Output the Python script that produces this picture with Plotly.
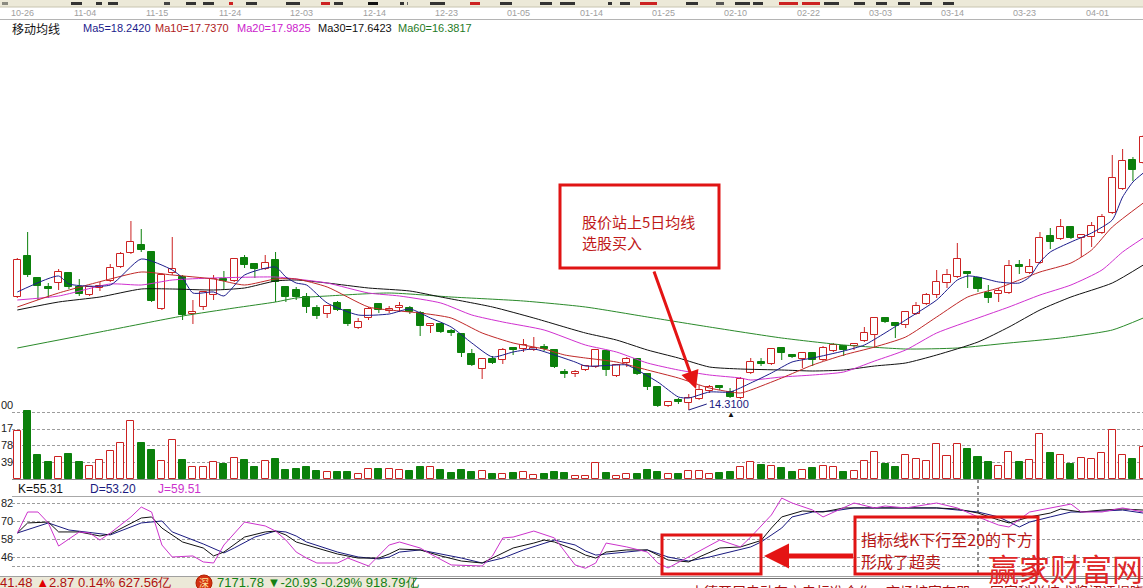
import plotly.graph_objects as go

W, H = 1143, 588
STEP, FIRST, LEFT = 10.33, 17.3, 12.0

# ---------------- data ----------------
dates = ["10-26", "11-04", "11-15", "11-24", "12-03", "12-14", "12-23", "01-05",
         "01-14", "01-25", "02-10", "02-22", "03-03", "03-14", "03-23", "04-01"]

opens = [17.70, 18.93, 18.27, 18.00, 18.12, 18.42, 18.00, 17.76, 17.97, 18.18,
         18.60, 19.02, 19.26, 19.05, 17.34, 18.42, 18.30, 17.19, 17.40, 17.76,
         18.24, 18.18, 18.87, 18.69, 18.54, 18.81, 18.00, 17.91, 17.70, 17.37,
         17.19, 17.52, 17.31, 16.77, 17.07, 17.49, 17.28, 17.37, 17.37, 17.22,
         16.83, 16.89, 16.68, 16.59, 15.99, 15.54, 15.84, 15.81, 16.17, 16.14,
         16.11, 16.20, 16.11, 15.45, 15.39, 15.51, 15.60, 16.08, 15.33, 15.72,
         15.84, 15.39, 15.00, 14.43, 14.61, 14.52, 14.64, 14.88, 15.03, 14.85,
         14.67, 15.42, 15.75, 15.69, 16.17, 15.96, 15.84, 16.02, 15.81, 16.08,
         16.23, 16.23, 16.38, 16.56, 17.07, 16.92, 16.86, 17.19, 17.49, 17.76,
         18.12, 18.30, 18.45, 18.27, 17.82, 17.79, 17.82, 18.66, 18.42, 18.72,
         19.53, 19.44, 19.80, 19.47, 19.50, 19.62, 20.22, 20.94, 21.81, 21.72]
highs = [18.87, 19.65, 18.30, 18.12, 18.54, 18.45, 18.24, 18.03, 18.15, 18.69,
         19.05, 19.98, 19.74, 19.08, 18.42, 19.50, 18.36, 17.61, 17.88, 18.36,
         18.48, 18.87, 18.96, 18.72, 18.96, 19.05, 18.03, 18.00, 17.82, 17.46,
         17.46, 17.58, 17.34, 17.07, 17.40, 17.52, 17.43, 17.55, 17.43, 17.28,
         16.89, 16.92, 16.74, 16.62, 16.14, 15.87, 15.93, 16.17, 16.17, 16.44,
         16.50, 16.29, 16.14, 15.54, 15.51, 15.66, 16.14, 16.11, 15.69, 15.90,
         15.87, 15.42, 15.03, 14.58, 14.67, 14.79, 15.06, 15.06, 15.06, 14.97,
         15.30, 15.87, 15.87, 16.17, 16.20, 15.99, 16.05, 16.05, 16.23, 16.32,
         16.26, 16.32, 16.80, 17.10, 17.10, 16.95, 17.28, 17.55, 17.82, 18.51,
         18.54, 19.32, 18.48, 18.30, 18.06, 17.97, 18.81, 18.81, 18.84, 19.65,
         19.77, 20.04, 19.83, 19.59, 19.95, 20.19, 21.96, 22.14, 21.90, 22.56]
lows = [17.67, 18.30, 17.61, 17.67, 17.91, 17.94, 17.73, 17.73, 17.88, 18.15,
        18.57, 18.99, 19.05, 17.55, 17.31, 18.36, 17.01, 16.89, 17.31, 17.61,
        17.91, 18.15, 18.57, 18.27, 18.51, 17.55, 17.55, 17.61, 17.22, 17.04,
        17.07, 17.28, 16.83, 16.74, 17.01, 17.22, 17.22, 17.25, 17.19, 16.53,
        16.62, 16.62, 16.53, 15.90, 15.63, 15.24, 15.69, 15.69, 15.96, 16.05,
        16.08, 16.08, 15.57, 15.27, 15.30, 15.48, 15.57, 15.33, 15.30, 15.60,
        15.36, 14.91, 14.40, 14.40, 14.49, 14.31, 14.61, 14.82, 14.91, 14.67,
        14.64, 15.39, 15.63, 15.66, 15.81, 15.87, 15.57, 15.63, 15.78, 16.05,
        15.93, 16.11, 16.35, 16.17, 16.92, 16.47, 16.77, 17.16, 17.46, 17.67,
        17.97, 18.27, 17.97, 17.85, 17.52, 17.55, 17.79, 18.39, 18.39, 18.69,
        19.14, 19.41, 19.44, 18.90, 19.20, 19.59, 20.19, 20.91, 21.18, 21.69]
closes = [18.81, 18.36, 18.03, 17.94, 18.45, 18.00, 17.79, 18.00, 18.03, 18.57,
          18.99, 19.35, 19.11, 17.58, 18.36, 18.54, 17.16, 17.25, 17.85, 18.24,
          18.18, 18.84, 18.66, 18.54, 18.72, 18.15, 17.70, 17.70, 17.40, 17.13,
          17.43, 17.31, 16.89, 16.95, 17.34, 17.31, 17.34, 17.43, 17.25, 16.83,
          16.89, 16.65, 16.62, 16.02, 15.66, 15.84, 15.72, 16.11, 16.11, 16.26,
          16.17, 16.14, 15.60, 15.39, 15.45, 15.63, 16.11, 15.51, 15.66, 15.84,
          15.39, 15.00, 14.43, 14.55, 14.55, 14.67, 14.91, 15.00, 14.97, 14.70,
          15.24, 15.75, 15.69, 16.14, 16.02, 15.90, 16.02, 15.81, 16.17, 16.26,
          16.11, 16.29, 16.62, 17.07, 16.95, 16.83, 17.25, 17.43, 17.76, 18.15,
          18.36, 18.84, 18.39, 17.94, 17.67, 17.88, 18.63, 18.60, 18.60, 19.47,
          19.35, 19.80, 19.47, 19.56, 19.83, 20.10, 21.27, 21.78, 21.51, 22.50]
volumes = [112, 159, 56, 40, 51, 58, 40, 30, 44, 66,
           84, 136, 84, 68, 42, 91, 44, 28, 28, 40,
           35, 49, 44, 28, 42, 47, 21, 23, 28, 19,
           16, 16, 16, 12, 23, 23, 23, 21, 19, 28,
           28, 21, 14, 21, 16, 19, 12, 12, 14, 16,
           9, 12, 16, 14, 7, 7, 37, 14, 7, 12,
           12, 21, 16, 12, 12, 19, 19, 12, 14, 16,
           28, 40, 33, 30, 26, 16, 21, 26, 30, 28,
           16, 19, 42, 63, 35, 28, 56, 47, 42, 82,
           54, 82, 70, 51, 40, 30, 63, 40, 44, 105,
           61, 56, 35, 49, 47, 61, 115, 56, 47, 75]

ma5_idx = [0, 4, 5, 9, 12, 15, 16, 17, 19, 20, 22, 25, 26, 27, 28, 30, 33, 36, 38, 40,
           42, 44, 46, 48, 50, 52, 54, 55, 58, 59, 62, 64, 65, 67, 69, 71, 73, 75, 77, 80,
           82, 84, 86, 89, 91, 92, 93, 95, 97, 98, 99, 100, 102, 104, 106, 107, 108, 109]
ma5 = [17.85, 18.33, 18.09, 18.06, 18.84, 18.51, 18.27, 17.82, 17.85, 17.73,
       18.36, 18.60, 18.30, 18.12, 18.06, 17.52, 17.16, 17.19, 17.34, 17.07,
       16.80, 16.32, 15.90, 16.05, 16.14, 15.96, 15.75, 15.63, 15.66, 15.66,
       15.15, 14.70, 14.67, 14.85, 14.85, 15.12, 15.42, 15.75, 15.87, 16.08,
       16.26, 16.62, 17.01, 17.61, 18.21, 18.33, 18.30, 18.15, 18.12, 18.30,
       18.75, 19.05, 19.35, 19.62, 20.01, 20.70, 21.15, 21.42]
ma10_idx = [0, 4, 9, 12, 15, 19, 22, 25, 27, 30, 34, 37, 39, 42, 45, 48, 51, 53, 55, 58,
            61, 64, 67, 70, 71, 74, 77, 80, 83, 86, 89, 92, 95, 97, 99, 102, 104, 106, 109]
ma10 = [17.40, 17.82, 18.24, 18.45, 18.36, 18.24, 18.06, 18.24, 18.24, 18.00,
        17.40, 17.28, 17.22, 17.07, 16.62, 16.32, 16.14, 15.96, 15.87, 15.75,
        15.51, 15.27, 14.97, 14.82, 14.91, 15.27, 15.66, 15.96, 16.20, 16.50,
        17.10, 17.70, 17.97, 18.21, 18.45, 18.72, 19.11, 19.80, 20.52]
ma20_idx = [0, 4, 9, 12, 15, 19, 25, 27, 30, 34, 37, 41, 44, 47, 51, 55, 58, 61, 64, 67,
            70, 71, 74, 77, 80, 83, 86, 89, 93, 96, 99, 102, 105, 107, 109]
ma20 = [17.61, 17.73, 18.09, 18.06, 18.21, 18.27, 18.30, 18.24, 18.12, 17.82,
        17.73, 17.52, 17.16, 16.95, 16.71, 16.26, 16.05, 15.72, 15.51, 15.36,
        15.27, 15.21, 15.30, 15.36, 15.45, 15.78, 16.11, 16.62, 17.07, 17.40,
        17.76, 18.06, 18.51, 19.05, 19.47]
ma30_idx = [0, 4, 8, 12, 15, 19, 22, 25, 27, 30, 34, 38, 41, 46, 50, 55, 58, 61, 64, 67,
            70, 74, 77, 80, 83, 86, 89, 93, 96, 99, 102, 106, 109]
ma30 = [17.31, 17.55, 17.70, 17.94, 17.94, 17.91, 17.97, 18.18, 18.21, 18.12,
        17.97, 17.88, 17.70, 17.40, 17.07, 16.62, 16.41, 16.11, 15.87, 15.60,
        15.54, 15.51, 15.48, 15.51, 15.63, 15.72, 15.96, 16.35, 16.80, 17.31,
        17.70, 18.12, 18.66]
ma60_idx = [0, 8, 16, 21, 25, 27, 30, 36, 42, 49, 55, 61, 67, 74, 80, 86, 91, 96, 101, 106, 109]
ma60 = [16.17, 16.65, 17.13, 17.37, 17.55, 17.67, 17.73, 17.82, 17.70, 17.58,
        17.40, 17.10, 16.80, 16.47, 16.26, 16.14, 16.17, 16.32, 16.47, 16.71, 17.07]

k_idx = [0, 1, 3, 4, 6, 8, 9, 12, 13, 14, 16, 18, 19, 20, 22, 24, 25, 26, 27, 28,
         31, 33, 35, 36, 37, 39, 41, 43, 45, 46, 48, 50, 51, 52, 54, 55, 56, 57, 59, 61,
         62, 63, 65, 66, 68, 70, 72, 73, 74, 76, 78, 80, 82, 84, 86, 89, 91, 93, 95, 96,
         98, 100, 101, 103, 105, 107, 109]
k_val = [62.0, 68.7, 69.3, 62.7, 62.7, 60.0, 61.3, 72.0, 72.7, 65.3, 56.0, 52.0, 46.7, 49.3,
         59.3, 62.7, 63.3, 60.7, 56.0, 54.0, 48.0, 45.3, 45.3, 48.0, 51.3, 50.7, 46.7, 43.3,
         42.0, 45.3, 52.0, 55.3, 57.3, 56.0, 50.7, 47.3, 45.3, 49.3, 50.7, 50.7, 47.3, 44.0,
         42.7, 46.0, 52.0, 52.7, 57.0, 65.3, 72.7, 76.7, 76.0, 78.7, 78.7, 78.7, 78.7, 78.7,
         78.0, 75.3, 70.7, 68.7, 72.7, 75.3, 78.0, 76.0, 77.3, 78.0, 77.3]
d_idx = [0, 3, 5, 8, 9, 12, 14, 15, 18, 20, 21, 23, 25, 26, 27, 28, 31, 33, 35, 36,
         37, 39, 41, 43, 45, 47, 49, 51, 52, 54, 55, 56, 59, 61, 63, 65, 67, 69, 71, 72,
         74, 75, 77, 79, 81, 83, 86, 89, 93, 95, 97, 98, 100, 102, 103, 107, 109]
d_val = [62.0, 68.7, 64.0, 61.3, 60.7, 68.7, 70.0, 62.7, 54.7, 48.7, 52.0, 59.3, 63.3, 62.7,
         60.0, 56.0, 49.3, 46.0, 44.7, 46.0, 49.3, 50.7, 48.0, 45.3, 42.0, 45.3, 50.7, 55.3,
         57.3, 54.0, 50.0, 47.3, 49.3, 50.7, 46.0, 43.3, 46.0, 49.3, 52.7, 56.0, 65.3, 72.7,
         76.0, 76.7, 78.7, 78.7, 78.7, 78.7, 76.0, 72.7, 66.0, 69.3, 72.7, 76.0, 76.0, 77.3, 75.3]
j_idx = [0, 1, 2, 3, 4, 6, 7, 8, 9, 11, 12, 13, 14, 15, 17, 18, 19, 20, 22, 24,
         25, 26, 27, 28, 29, 31, 32, 34, 36, 37, 39, 40, 42, 45, 46, 47, 48, 50, 52, 54,
         55, 56, 57, 59, 61, 62, 63, 65, 68, 70, 71, 73, 74, 75, 77, 78, 80, 81, 83, 84,
         86, 89, 91, 93, 95, 96, 98, 100, 102, 103, 105, 107, 109]
j_val = [62.0, 76.0, 76.0, 68.7, 53.3, 62.7, 62.0, 57.3, 62.0, 72.7, 79.3, 76.0, 54.0, 46.0,
         46.7, 42.7, 42.0, 54.0, 69.3, 66.7, 63.3, 57.3, 49.3, 45.3, 42.0, 42.0, 45.3, 40.0,
         54.0, 56.0, 52.0, 48.0, 40.7, 40.0, 46.7, 58.7, 59.3, 63.3, 58.7, 40.7, 38.5, 42.0,
         55.3, 52.7, 49.3, 42.0, 38.7, 46.0, 57.3, 52.7, 59.3, 74.0, 85.3, 82.0, 77.3, 72.7,
         78.7, 82.0, 78.7, 80.0, 78.7, 82.0, 78.7, 72.7, 67.3, 66.0, 76.0, 78.7, 81.3, 76.0,
         76.0, 78.7, 76.0]

vol_labels = ["00", "17", "78", "39"]
kdj_labels = ["82", "70", "58", "46"]
kdj_grid = [82, 70, 58, 46, 40]
vol_grid = [39, 78, 117, 156]

# ---------------- style ----------------
RED = "#cc2222"
GREEN = "#0b800b"
C_MA5, C_MA10, C_MA20, C_MA30, C_MA60 = "#1c1c8c", "#c02828", "#d030d0", "#111111", "#2a8a2a"
CJK = "Noto Sans CJK SC"
LAT = "Liberation Sans"


def P(y):
    return 1 - y / H


def X(x):
    return x / W


n = len(closes)
idx = list(range(n))
up = [closes[i] >= opens[i] for i in idx]

fig = go.Figure()

# wicks (split above/below body so hollow bodies stay empty)
for flag, col in ((True, RED), (False, GREEN)):
    xs, ys = [], []
    for i in idx:
        if up[i] != flag:
            continue
        top = max(opens[i], closes[i])
        bot = min(opens[i], closes[i])
        xs += [i, i, None, i, i, None]
        ys += [highs[i], top, None, bot, lows[i], None]
    fig.add_trace(go.Scatter(x=xs, y=ys, mode="lines", line=dict(color=col, width=1),
                             hoverinfo="skip", showlegend=False))

# bodies
for flag, fill, col in ((True, "white", RED), (False, GREEN, GREEN)):
    sel = [i for i in idx if up[i] == flag]
    fig.add_trace(go.Bar(
        x=sel,
        y=[max(abs(closes[i] - opens[i]), 0.03) for i in sel],
        base=[min(opens[i], closes[i]) for i in sel],
        width=0.68, marker=dict(color=fill, line=dict(color=col, width=1)),
        hoverinfo="skip", showlegend=False))

# moving averages
for xs, ys, col in ((ma60_idx, ma60, C_MA60), (ma30_idx, ma30, C_MA30), (ma20_idx, ma20, C_MA20),
                    (ma10_idx, ma10, C_MA10), (ma5_idx, ma5, C_MA5)):
    fig.add_trace(go.Scatter(x=xs, y=ys, mode="lines",
                             line=dict(color=col, width=1, shape="spline", smoothing=0.6),
                             hoverinfo="skip", showlegend=False))

# volume
for flag, fill, col in ((True, "white", RED), (False, GREEN, GREEN)):
    sel = [i for i in idx if up[i] == flag]
    fig.add_trace(go.Bar(x=sel, y=[volumes[i] for i in sel], yaxis="y2", width=0.68,
                         marker=dict(color=fill, line=dict(color=col, width=1)),
                         hoverinfo="skip", showlegend=False))

# KDJ
for xs, ys, col in ((d_idx, d_val, "#1a1a80"), (k_idx, k_val, "#111111"), (j_idx, j_val, "#cc33cc")):
    fig.add_trace(go.Scatter(x=xs, y=ys, yaxis="y3", mode="lines", line=dict(color=col, width=1),
                             hoverinfo="skip", showlegend=False))

# ---------------- shapes ----------------
shapes = []


def rect(x0, y0, x1, y1, fill=None, line=None, lw=0):
    shapes.append(dict(type="rect", xref="paper", yref="paper", x0=X(x0), x1=X(x1), y0=P(y1), y1=P(y0),
                       fillcolor=fill or "rgba(0,0,0,0)",
                       line=dict(color=line or "rgba(0,0,0,0)", width=lw), layer="above"))


def hline(x0, x1, y, col, w=1, dash="solid"):
    shapes.append(dict(type="line", xref="paper", yref="paper", x0=X(x0), x1=X(x1), y0=P(y), y1=P(y),
                       line=dict(color=col, width=w, dash=dash), layer="above"))


def vline(x, y0, y1, col, w=1, dash="solid"):
    shapes.append(dict(type="line", xref="paper", yref="paper", x0=X(x), x1=X(x), y0=P(y0), y1=P(y1),
                       line=dict(color=col, width=w, dash=dash), layer="above"))


# toolbar strip (cut-off icons)
rect(0, 0, W, 7, fill="#ece9d8")
for x0, x1, col in ((2, 8, "#8a8a80"), (71, 82, "#333333"), (96, 102, "#333333"), (108, 118, "#333333"),
                    (164, 170, "#444444"), (186, 196, "#333333"), (203, 214, "#333333"),
                    (229, 233, "#cc2222"), (246, 257, "#333333"), (286, 300, "#333333"),
                    (321, 330, "#cc2222"), (334, 343, "#333333"), (368, 378, "#111111"),
                    (400, 404, "#333333"), (407, 408, "#666666"), (430, 445, "#333333"),
                    (470, 480, "#cc2222"), (500, 512, "#333333"), (540, 552, "#333333"),
                    (560, 575, "#333333"), (608, 612, "#333333"), (620, 630, "#333333"),
                    (640, 657, "#cc2222"), (686, 698, "#333333"), (716, 724, "#555555"),
                    (735, 750, "#333333"), (753, 763, "#333333"), (779, 798, "#cc2222"),
                    (802, 820, "#cc2222"), (824, 839, "#333333"), (854, 865, "#333333"),
                    (876, 887, "#333333"), (898, 910, "#333333"), (920, 932, "#333333"),
                    (943, 954, "#333333")):
    rect(x0, 2, x1, 5, fill=col)
hline(0, W, 7, "#c8c4b0")
hline(0, W, 19.5, "#b4b4b4")
hline(LEFT, W, 479.5, "#8a8a8a")
hline(LEFT, W, 496.5, "#a8a8a8")
vline(978, 480, 576, "#222222", 1, "3px,3px")
rect(0, 577, 413, 588, fill="#ece9d8")
hline(0, W, 576.5, "#a0a0a0")
rect(413, 578, W, 590, fill="white")
hline(413, W, 578.5, "#707070")
vline(413.5, 578, 588, "#707070")
shapes.append(dict(type="circle", xref="paper", yref="paper", x0=X(196), x1=X(212), y0=P(591), y1=P(575),
                   fillcolor="#d43010", line=dict(color="#b02000", width=1), layer="above"))
# annotation boxes
rect(560, 185, 719, 268, line="#e01414", lw=3)
rect(662, 535, 761, 574, line="#e01414", lw=3)
rect(855, 517, 1038, 574, line="#e01414", lw=3)

# ---------------- annotations ----------------
ann = []


def txt(x, y, text, size, color, family=LAT, xanchor="left", yanchor="middle"):
    ann.append(dict(x=X(x), y=P(y), xref="paper", yref="paper", text=text, showarrow=False,
                    font=dict(size=size, color=color, family=family), xanchor=xanchor, yanchor=yanchor))


# date labels
for k, d in enumerate(dates):
    pos = 0.55 if k == 0 else 7 * k - 0.45
    ann.append(dict(x=pos, y=P(13), xref="x", yref="paper", text=d, showarrow=False,
                    font=dict(size=9, color="#a0a0a0", family=LAT), xanchor="center", yanchor="middle"))

# MA header
txt(10, 28, "移动均线", 12, "#111111", CJK)
txt(81, 28, "Ma5=18.2420", 11, C_MA5)
txt(153, 28, "Ma10=17.7370", 11, "#b01c1c")
txt(235, 28, "Ma20=17.9825", 11, "#cc22cc")
txt(316, 28, "Ma30=17.6423", 11, "#111111")
txt(396, 28, "Ma60=16.3817", 11, "#1f7a1f")

# KDJ header
txt(16, 489, "K=55.31", 12, "#111111")
txt(88, 489, "D=53.20", 12, "#1a1a80")
txt(156, 489, "J=59.51", 12, "#cc33cc")

# truncated left axis labels
for lab, y in zip(vol_labels, [405, 428, 445, 462]):
    txt(-1, y, lab, 11, "#222222")
for lab, y in zip(kdj_labels, [503, 521, 539, 557]):
    txt(-1, y, lab, 11, "#222222")

# lowest price marker
lo = min(lows)
lo_i = lows.index(lo)
ann.append(dict(x=lo_i, y=lo, xref="x", yref="y", text=f"{lo:.4f}", showarrow=True, arrowhead=0,
                arrowwidth=1, arrowcolor="#1a1a80", ax=18, ay=-6, xanchor="left", yanchor="middle",
                font=dict(size=11, color="#1a1a80", family=LAT)))
txt(731, 414, "▲", 8, "#111111", xanchor="center")

# callout 1
txt(580, 222, "股价站上5日均线", 15, "#c01818", CJK)
txt(580, 242, "选股买入", 15, "#c01818", CJK)
ann.append(dict(x=X(696), y=P(389), xref="paper", yref="paper", text=" ", showarrow=True,
                arrowhead=2, arrowsize=1.2, arrowwidth=3, arrowcolor="#e41414",
                ax=-45, ay=-126))
# callout 2
txt(859, 539, "指标线K下行至20的下方", 16, "#b81818", CJK)
txt(859, 561, "形成了超卖", 16, "#b81818", CJK)
ann.append(dict(x=X(764), y=P(556), xref="paper", yref="paper", text=" ", showarrow=True,
                arrowhead=2, arrowsize=1, arrowwidth=5, arrowcolor="#e41414",
                ax=92, ay=0))

# status bar and news ticker
txt(-2, 582, '41.48 <span style="color:#e00000">▲</span>2.87 0.14% 627.56亿', 13, "#b01010")
txt(204, 582, "深", 10, "#ffe8a0", CJK, xanchor="center")
txt(215, 582, '7171.78 ▼-20.93 -0.29% 918.79亿', 13, "#138013")
txt(688, 591, "中德开展电动车充电标准合作，市场扩容在即", 14, "#a81010", CJK)
txt(988, 591, "国家科学技术奖初评揭晓", 14, "#a81010", CJK)

# watermark
txt(1065, 567, "赢家财富网", 31, "#e02828", CJK, xanchor="center")

fig.update_layout(
    width=W, height=H, margin=dict(l=0, r=0, t=0, b=0),
    paper_bgcolor="white", plot_bgcolor="rgba(0,0,0,0)",
    barmode="overlay", showlegend=False, bargap=0,
    xaxis=dict(domain=[X(LEFT), 1], range=[(LEFT - FIRST) / STEP, (W - FIRST) / STEP],
               visible=False, fixedrange=True),
    yaxis=dict(domain=[P(415), P(20)], range=[26.61 - 0.03 * 415, 26.61 - 0.03 * 20],
               visible=False, fixedrange=True),
    yaxis2=dict(domain=[P(479), P(405)], range=[0, 74 * 2.34], anchor="x",
                showgrid=True, tickvals=vol_grid, gridcolor="#9c9c9c", griddash="3px,2px",
                gridwidth=1, showticklabels=False, ticks="", zeroline=False, showline=False),
    yaxis3=dict(domain=[P(571), P(496)], range=[82 - (571 - 503) / 1.5, 82 + (503 - 496) / 1.5],
                anchor="x", showgrid=True, tickvals=kdj_grid, gridcolor="#9c9c9c", griddash="3px,2px",
                gridwidth=1, showticklabels=False, ticks="", zeroline=False, showline=False),
    shapes=shapes, annotations=ann,
)

fig.write_html("out.html", config={"displayModeBar": False},
               post_script="document.body.style.margin='0';document.body.style.overflow='hidden';")
